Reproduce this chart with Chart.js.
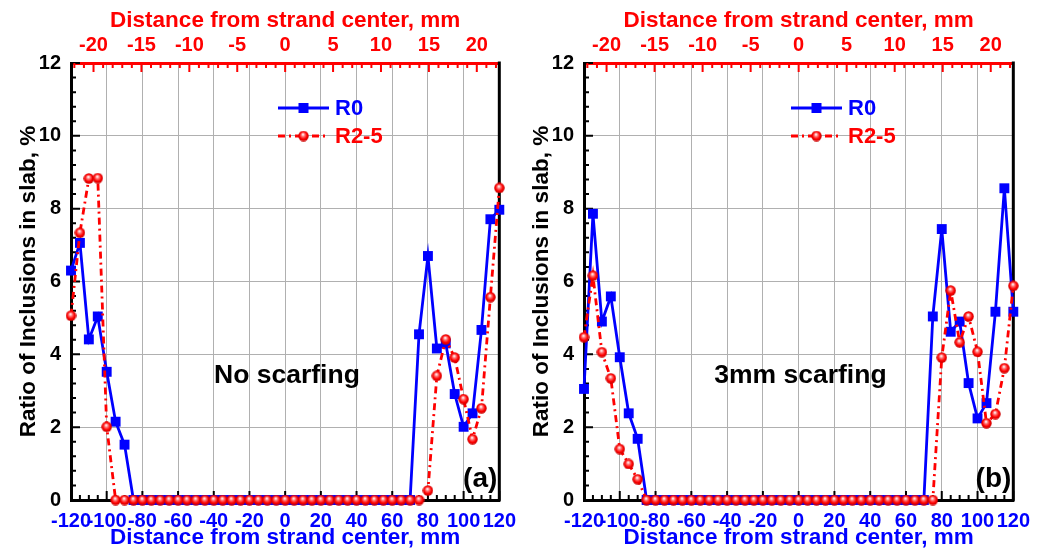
<!DOCTYPE html>
<html>
<head>
<meta charset="utf-8">
<script src="https://cdn.jsdelivr.net/npm/chart.js@4.4.0/dist/chart.umd.min.js"></script>
<style>
    body { margin: 0; background: #fff; }
    #wrap { position: relative; width: 1050px; height: 551px; overflow: hidden; }
    canvas { position: absolute; top: 0; }
    #panelA { left: 0; }
    #panelB { left: 513px; }
</style>
</head>
<body>
<div id="wrap">
    <canvas id="panelA" width="525" height="551"></canvas>
    <canvas id="panelB" width="526" height="551"></canvas>
</div>
<script>
// distance from strand center (bottom axis), one sample every 5
var distance = [-120, -115, -110, -105, -100, -95, -90, -85, -80, -75, -70, -65, -60, -55, -50, -45, -40, -35, -30, -25, -20, -15, -10, -5,
    0, 5, 10, 15, 20, 25, 30, 35, 40, 45, 50, 55, 60, 65, 70, 75, 80, 85, 90, 95, 100, 105, 110, 115, 120];

// (a) no scarfing
var r0NoScarf = [6.30, 7.06, 4.41, 5.04, 3.52, 2.15, 1.52, 0, 0, 0, 0, 0, 0, 0, 0, 0, 0, 0, 0, 0, 0, 0, 0, 0,
    0, 0, 0, 0, 0, 0, 0, 0, 0, 0, 0, 0, 0, 0, 0, 4.55, 6.70, 4.16, 4.30, 2.91, 2.01, 2.38, 4.67, 7.71, 7.97];
var r25NoScarf = [5.06, 7.34, 8.83, 8.84, 2.01, 0, 0, 0, 0, 0, 0, 0, 0, 0, 0, 0, 0, 0, 0, 0, 0, 0, 0, 0,
    0, 0, 0, 0, 0, 0, 0, 0, 0, 0, 0, 0, 0, 0, 0, 0, 0.26, 3.41, 4.41, 3.91, 2.77, 1.67, 2.52, 5.57, 8.57];

// (b) 3mm scarfing
var r0Scarf = [3.05, 7.86, 4.90, 5.59, 3.92, 2.38, 1.68, 0, 0, 0, 0, 0, 0, 0, 0, 0, 0, 0, 0, 0, 0, 0, 0, 0,
    0, 0, 0, 0, 0, 0, 0, 0, 0, 0, 0, 0, 0, 0, 0, 5.04, 7.44, 4.62, 4.90, 3.21, 2.24, 2.66, 5.17, 8.56, 5.17];
var r25Scarf = [4.47, 6.16, 4.06, 3.34, 1.40, 0.99, 0.57, 0, 0, 0, 0, 0, 0, 0, 0, 0, 0, 0, 0, 0, 0, 0, 0, 0,
    0, 0, 0, 0, 0, 0, 0, 0, 0, 0, 0, 0, 0, 0, 0, 0, 3.91, 5.75, 4.33, 5.04, 4.07, 2.11, 2.36, 3.62, 5.88];

var yTicks = [0, 2, 4, 6, 8, 10, 12];
var topTicks = [-20, -15, -10, -5, 0, 5, 10, 15, 20];

var BLUE = '#0000ff';
var RED = '#ff0000';
var GRID = '#b0b0b0';
var FONT = "'Liberation Sans', Arial, sans-serif";
var axisTitle = 'Distance from strand center, mm';

// small shaded ball used as the R2-5 marker
function makeSphere(d) {
    var c = document.createElement('canvas');
    c.width = c.height = d;
    var g = c.getContext('2d');
    var r = d / 2;
    var grad = g.createRadialGradient(r * 0.9, r * 0.7, 0.3, r, r, r);
    grad.addColorStop(0, '#ffffff');
    grad.addColorStop(0.3, '#ff7070');
    grad.addColorStop(0.65, '#ff0000');
    grad.addColorStop(1, '#c00000');
    g.fillStyle = grad;
    g.beginPath();
    g.arc(r, r, r - 0.3, 0, Math.PI * 2);
    g.fill();
    return c;
}
var sphere = makeSphere(11);

function toPoints(vals) {
    return distance.map(function (d, i) { return { x: d, y: vals[i] }; });
}

// inward ticks, right frame, legend and captions
var frameNotes = {
    id: 'frameNotes',
    beforeDatasetsDraw: function (chart) {
        var ctx = chart.ctx, a = chart.chartArea, s = chart.scales;
        ctx.save();
        ctx.lineWidth = 2;
        ctx.strokeStyle = '#000';
        ctx.beginPath();
        for (var k = 0; k <= 30; k++) {
            var py = s.y.getPixelForValue(k * 0.4);
            ctx.moveTo(a.left, py);
            ctx.lineTo(a.left + (k % 5 === 0 ? 9 : 5), py);
        }
        for (var j = 0; j <= 48; j++) {
            var px = s.x.getPixelForValue(-120 + j * 5);
            ctx.moveTo(px, a.bottom);
            ctx.lineTo(px, a.bottom - (j % 4 === 0 ? 9 : 5));
        }
        ctx.stroke();
        ctx.strokeStyle = RED;
        ctx.beginPath();
        for (var v = -22; v <= 22; v++) {
            var tx = s.x2.getPixelForValue(v);
            ctx.moveTo(tx, a.top);
            ctx.lineTo(tx, a.top + (v % 5 === 0 ? 9 : 5));
        }
        ctx.stroke();
        ctx.lineWidth = 3;
        ctx.strokeStyle = '#000';
        ctx.beginPath();
        ctx.moveTo(a.right, a.top - 1.5);
        ctx.lineTo(a.right, a.bottom + 1.5);
        ctx.stroke();
        ctx.restore();
    },
    afterDraw: function (chart, args, opts) {
        var ctx = chart.ctx, a = chart.chartArea, s = chart.scales;
        ctx.save();
        // legend
        var lx = a.left + 207, y1 = a.top + 45, y2 = a.top + 73;
        ctx.lineWidth = 2.8;
        ctx.strokeStyle = BLUE;
        ctx.beginPath();
        ctx.moveTo(lx, y1);
        ctx.lineTo(lx + 51, y1);
        ctx.stroke();
        ctx.fillStyle = BLUE;
        ctx.fillRect(lx + 25.5 - 5, y1 - 5, 10, 10);
        ctx.strokeStyle = RED;
        ctx.setLineDash([7, 4, 2, 4]);
        ctx.beginPath();
        ctx.moveTo(lx, y2);
        ctx.lineTo(lx + 51, y2);
        ctx.stroke();
        ctx.setLineDash([]);
        ctx.drawImage(sphere, lx + 25.5 - 5.5, y2 - 5.5);
        ctx.font = 'bold 22px ' + FONT;
        ctx.textBaseline = 'middle';
        ctx.textAlign = 'left';
        ctx.fillStyle = BLUE;
        ctx.fillText('R0', lx + 57, y1 + 1);
        ctx.fillStyle = RED;
        ctx.fillText('R2-5', lx + 57, y2 + 1);
        // captions
        ctx.fillStyle = '#000';
        ctx.textBaseline = 'alphabetic';
        ctx.textAlign = 'center';
        ctx.font = 'bold 26.5px ' + FONT;
        ctx.fillText(opts.caption, s.x.getPixelForValue(1), s.y.getPixelForValue(3.2));
        ctx.textAlign = 'right';
        ctx.font = 'bold 28px ' + FONT;
        ctx.fillText(opts.tag, a.right - 2, a.bottom - 13);
        ctx.restore();
    }
};

function drawPanel(id, r0, r25, caption, tag) {
    var tickFont = { family: FONT, size: 20, weight: 'bold' };
    var titleFont = { family: FONT, size: 22.5, weight: 'bold' };
    new Chart(document.getElementById(id), {
        type: 'line',
        data: {
            datasets: [{
                label: 'R2-5',
                data: toPoints(r25),
                borderColor: RED,
                borderWidth: 2.8,
                borderDash: [7, 4, 2, 4],
                pointStyle: sphere,
                pointRadius: 5.5,
                tension: 0,
                clip: false,
                order: 0
            }, {
                label: 'R0',
                data: toPoints(r0),
                borderColor: BLUE,
                backgroundColor: BLUE,
                borderWidth: 2.8,
                pointStyle: 'rect',
                pointRadius: 7,
                pointBorderWidth: 0,
                tension: 0,
                clip: false,
                order: 1
            }]
        },
        options: {
            responsive: false,
            animation: false,
            events: [],
            layout: { padding: { left: 0, right: 17, top: 0, bottom: 0 } },
            plugins: {
                legend: { display: false },
                tooltip: { enabled: false },
                frameNotes: { caption: caption, tag: tag }
            },
            scales: {
                x: {
                    type: 'linear', position: 'bottom', min: -120, max: 120,
                    ticks: { stepSize: 20, color: BLUE, font: tickFont, padding: 9, maxRotation: 0, autoSkip: false },
                    grid: { color: GRID, lineWidth: 1, drawTicks: false },
                    border: { color: '#000', width: 3 },
                    title: { display: true, text: axisTitle, color: BLUE, font: titleFont, padding: { top: 0, bottom: 0 } },
                    afterFit: function (sc) { sc.height = 51; }
                },
                x2: {
                    type: 'linear', position: 'top', min: -22.35, max: 22.35,
                    afterBuildTicks: function (sc) { sc.ticks = topTicks.map(function (v) { return { value: v }; }); },
                    ticks: { color: RED, font: tickFont, padding: 6, maxRotation: 0, autoSkip: false },
                    grid: { display: false, drawTicks: false },
                    border: { color: RED, width: 3 },
                    title: { display: true, text: axisTitle, color: RED, font: titleFont, padding: { top: 7, bottom: 0 } },
                    afterFit: function (sc) { sc.height = 63; }
                },
                y: {
                    type: 'linear', position: 'left', min: 0, max: 12,
                    afterBuildTicks: function (sc) { sc.ticks = yTicks.map(function (v) { return { value: v }; }); },
                    ticks: { color: '#000', font: tickFont, padding: 10 },
                    grid: { color: GRID, lineWidth: 1, drawTicks: false },
                    border: { color: '#000', width: 3 },
                    title: { display: true, text: 'Ratio of Inclusions in slab, %', color: '#000', font: titleFont, padding: { top: 15, bottom: 0 } },
                    afterFit: function (sc) { sc.width = 71; }
                }
            }
        },
        plugins: [frameNotes]
    });
}

drawPanel('panelA', r0NoScarf, r25NoScarf, 'No scarfing', '(a)');
drawPanel('panelB', r0Scarf, r25Scarf, '3mm scarfing', '(b)');
</script>
</body>
</html>
